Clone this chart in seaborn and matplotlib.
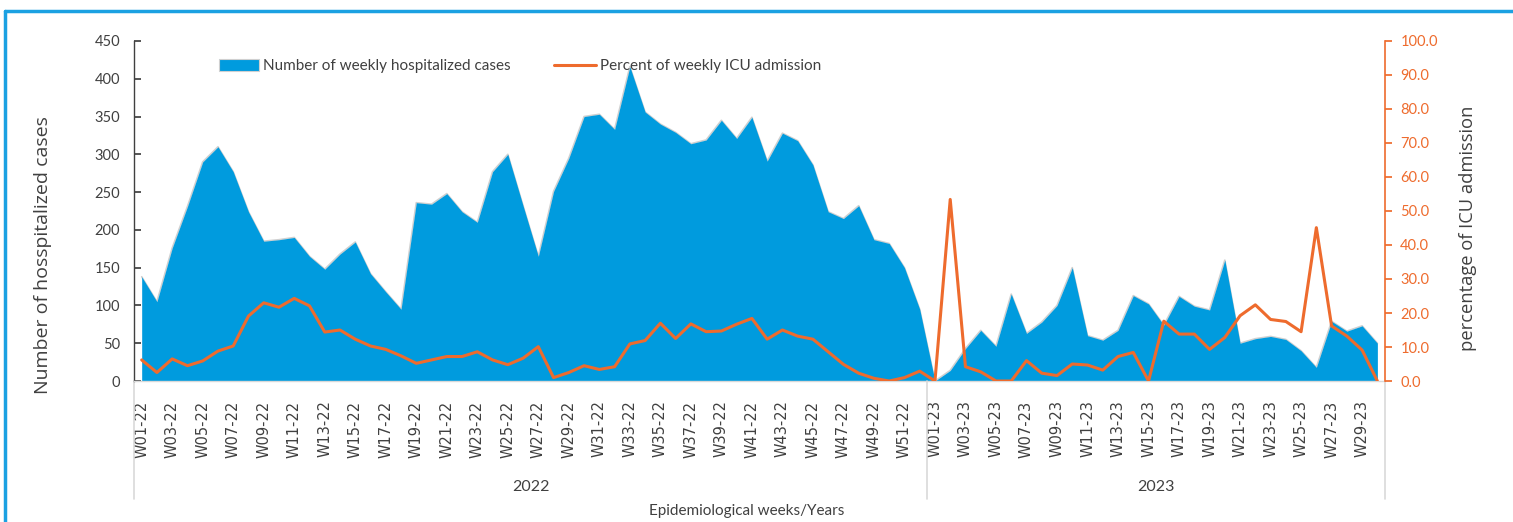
import matplotlib
matplotlib.use("Agg")
import matplotlib.pyplot as plt
import numpy as np
import pandas as pd
import seaborn as sns
from matplotlib.lines import Line2D
from matplotlib.patches import Patch

# ── data ──
weeks_2022 = [f"W{i:02d}-22" for i in range(1, 53)]
weeks_2023 = [f"W{i:02d}-23" for i in range(1, 31)]

hosp_2022 = [138, 105, 176, 231, 290, 310, 277, 224, 185, 187,
             190, 165, 148, 168, 184, 142, 118, 95, 236, 234,
             248, 224, 210, 277, 300, 232, 165, 251, 295, 350,
             353, 333, 416, 356, 340, 329, 314, 319, 345, 321,
             349, 291, 328, 318, 286, 224, 215, 232, 187, 182,
             150, 95]
hosp_2023 = [0, 14, 43, 67, 46, 115, 63, 78, 100, 150,
             60, 54, 67, 113, 102, 74, 112, 99, 94, 160,
             50, 56, 59, 55, 40, 18, 79, 66, 73, 50]

icu_2022 = [6.2, 2.5, 6.5, 4.5, 5.9, 8.8, 10.3, 19.1, 23.0, 21.7,
            24.3, 22.1, 14.4, 15.0, 12.3, 10.3, 9.3, 7.4, 5.2, 6.2,
            7.2, 7.2, 8.6, 6.2, 4.8, 6.7, 10.1, 1.0, 2.5, 4.5,
            3.4, 4.2, 10.9, 11.9, 17.0, 12.5, 16.8, 14.5, 14.7, 16.7,
            18.4, 12.3, 15.0, 13.2, 12.3, 8.6, 4.9, 2.3, 0.8, 0.0,
            1.0, 2.9]
icu_2023 = [0.0, 53.4, 4.2, 2.7, 0.0, 0.0, 6.0, 2.3, 1.6, 5.0,
            4.7, 3.2, 7.2, 8.4, 0.0, 17.6, 13.8, 13.8, 9.3, 12.8,
            19.2, 22.4, 18.1, 17.5, 14.5, 45.1, 16.2, 13.2, 9.1, 0.0]

years = ["2022", "2023"]

BLUE = "#009BDE"
ORANGE = "#EE6B2D"
GREY = "#404040"
FS = 10.5

df = pd.DataFrame({
    "week": weeks_2022 + weeks_2023,
    "hospitalized": hosp_2022 + hosp_2023,
    "icu_pct": icu_2022 + icu_2023,
})
df["pos"] = np.arange(len(df))

sns.set_theme(style="white")
plt.rcParams["font.family"] = ["Lato", "DejaVu Sans"]

fig = plt.figure(figsize=(15.13, 5.22), dpi=100)
ax = fig.add_axes([0.0886, 0.2701, 0.8268, 0.6514])
ax2 = ax.twinx()

# area for hospitalized cases
ax.fill_between(df["pos"], 0, df["hospitalized"], color=BLUE, linewidth=0, zorder=2)
sns.lineplot(data=df, x="pos", y="hospitalized", ax=ax, color="#d0d0d0",
             linewidth=1.2, zorder=1.9)

# ICU line
sns.lineplot(data=df, x="pos", y="icu_pct", ax=ax2, color=ORANGE, linewidth=2.2)

n = len(df)
ax.set_xlim(-0.5, n - 0.5)
ax.set_ylim(0, 450)
ax2.set_ylim(0, 100)
ax.set_yticks(np.arange(0, 451, 50))
ax2.set_yticks(np.arange(0, 101, 10))
ax2.set_yticklabels([f"{v:.1f}" for v in np.arange(0, 101, 10)])

ax.set_xticks(df["pos"][::2])
ax.set_xticklabels(df["week"][::2], rotation=90, fontsize=10.5, color=GREY,
                   family=["DejaVu Sans"])
ax.tick_params(axis="x", length=0, pad=14)
ax.tick_params(axis="y", direction="in", length=5, color=GREY, labelcolor=GREY,
               labelsize=FS, pad=10)
ax2.tick_params(axis="y", direction="out", length=5, color=ORANGE, labelcolor=ORANGE,
                labelsize=FS, pad=6)

ax.spines["top"].set_visible(False)
ax.spines["right"].set_visible(False)
ax2.spines["top"].set_visible(False)
ax2.spines["left"].set_visible(False)
ax2.spines["bottom"].set_visible(False)
ax2.spines["right"].set_color(ORANGE)
ax2.spines["right"].set_linewidth(1.2)
ax.spines["left"].set_color(GREY)
ax.spines["left"].set_linewidth(1.0)
ax.spines["bottom"].set_color("#d9d9d9")
ax.spines["bottom"].set_linewidth(1.0)

ax.set_xlabel("")
ax2.set_xlabel("")
ax.set_ylabel("Number of hosspitalized cases", fontsize=14, color=GREY,
              family=["Open Sans", "DejaVu Sans"])
ax.yaxis.set_label_coords(-0.0655, 0.37)
ax2.set_ylabel("percentage of ICU admission", fontsize=13.2, color=GREY,
               family=["Open Sans", "DejaVu Sans"])
ax2.yaxis.set_label_coords(1.059, 0.45)

# year grouping below the week labels
trans = ax.get_xaxis_transform()
bounds = [-0.5, len(weeks_2022) - 0.5, n - 0.5]
for b in bounds:
    ax.add_line(Line2D([b, b], [0, -0.347], transform=trans, color="#d9d9d9",
                       linewidth=1.2, clip_on=False))
for yr, lo, hi in zip(years, bounds[:-1], bounds[1:]):
    ax.text((lo + hi) / 2, -0.312, yr, transform=trans, ha="center", va="center",
            fontsize=FS + 1, color=GREY)
ax.text(0.49, -0.382, "Epidemiological weeks/Years", transform=ax.transAxes,
        ha="center", va="center", fontsize=FS + 0.5, color=GREY)

# legend: two entries placed side by side
leg1 = ax2.legend([Patch(facecolor=BLUE, edgecolor="#d0d0d0", linewidth=0.8)],
                  ["Number of weekly hospitalized cases"],
                  loc="center left", bbox_to_anchor=(0.068, 0.926), frameon=False,
                  fontsize=FS + 0.5, handlelength=2.6, handleheight=0.82,
                  handletextpad=0.3, borderpad=0, borderaxespad=0)
ax2.add_artist(leg1)
leg2 = ax2.legend([Line2D([], [], color=ORANGE, linewidth=2.2)],
                  ["Percent of weekly ICU admission"],
                  loc="center left", bbox_to_anchor=(0.336, 0.926), frameon=False,
                  fontsize=FS + 0.5, handlelength=2.7, handletextpad=0.3,
                  borderpad=0, borderaxespad=0)
for lg in (leg1, leg2):
    for t in lg.get_texts():
        t.set_color(GREY)

# frame around the figure (top and left edges)
fig.add_artist(Line2D([0.0035, 1.0], [1 - 11 / 522, 1 - 11 / 522], transform=fig.transFigure,
                      color="#1BA1E2", linewidth=2.5))
fig.add_artist(Line2D([0.0035, 0.0035], [0.0, 1 - 11 / 522], transform=fig.transFigure,
                      color="#1BA1E2", linewidth=2.5))

fig.savefig("out.png", dpi=100)
